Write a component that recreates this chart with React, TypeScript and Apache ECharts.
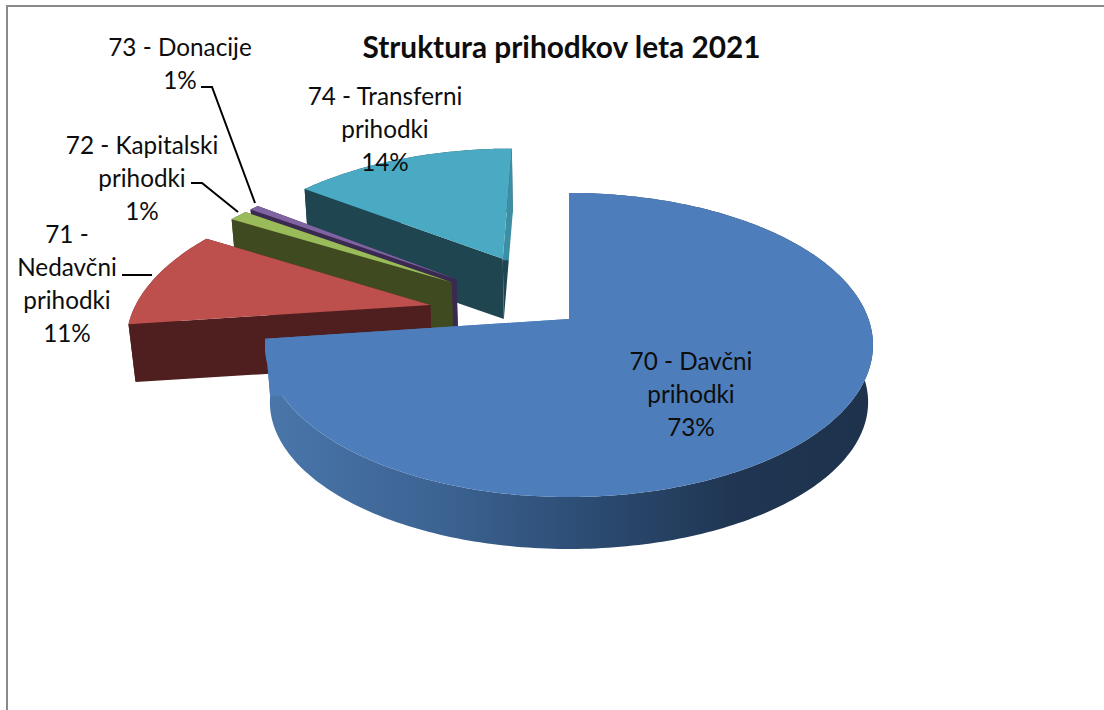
import React, { useEffect, useRef } from "react";
import * as echarts from "echarts";

const chartTitle = "Struktura prihodkov leta 2021";
const categories = ["70 - Davčni\nprihodki", "71 -\nNedavčni\nprihodki", "72 - Kapitalski\nprihodki", "73 - Donacije", "74 - Transferni\nprihodki"];
const shares = [72.9, 10.5, 1.2, 0.6, 14.8];
const percentLabels = ["73%", "11%", "1%", "1%", "14%"];
const explosionU = [0, 0.48, 0.485, 0.485, 0.53];
const explosionV = [0, 0.49, 0.485, 0.485, 0.49];
const topColors = ["#4d7ebb", "#bd504d", "#9abb59", "#8064a2", "#4aaac4"];
const wallColors = ["#4d7ebb", "#4f1f1f", "#3f4a20", "#3a2a52", "#1f4650"];
const drawOrder = [4, 3, 2, 1, 0];

// projection
const CX = 569, CY = 319, R = 299.5, K = 147.6, P = 0.171, DEPTH = 58, SHRINK_X = 0.984, SHRINK_Y = 0.966;
const total = shares.reduce((a, b) => a + b, 0);

function project(u: number, v: number, bottom: boolean): number[] {
  const s = 1 / (1 - P * v);
  const fx = bottom ? SHRINK_X : 1;
  const fy = bottom ? SHRINK_Y : 1;
  return [CX + u * R * s * fx, CY + v * K * s * fy + (bottom ? DEPTH : 0)];
}

function renderItem(params: any, api: any) {
  const i = api.value(0) as number;
  let before = 0;
  for (let n = 0; n < i; n++) before += shares[n];
  const a0 = (before / total) * Math.PI * 2;
  const a1 = ((before + shares[i]) / total) * Math.PI * 2;
  const mid = (a0 + a1) / 2;
  const ou = Math.sin(mid) * explosionU[i];
  const ov = -Math.cos(mid) * explosionV[i];
  const steps = Math.max(2, Math.ceil((a1 - a0) / (Math.PI / 180)));
  const rim = (bottom: boolean) => {
    const pts: number[][] = [];
    for (let s = 0; s <= steps; s++) {
      const a = a0 + ((a1 - a0) * s) / steps;
      pts.push(project(ou + Math.sin(a), ov - Math.cos(a), bottom));
    }
    return pts;
  };
  const topRim = rim(false);
  const botRim = rim(true);
  const apexT = project(ou, ov, false);
  const apexB = project(ou, ov, true);
  const children: any[] = [];
  const rimFill =
    i === 0
      ? new echarts.graphic.LinearGradient(
          268, 0, 873, 0,
          [
            { offset: 0, color: "#4a76aa" },
            { offset: 0.3, color: "#3b6291" },
            { offset: 0.55, color: "#2b4a70" },
            { offset: 0.78, color: "#1f3551" },
            { offset: 1, color: "#1e324c" },
          ],
          true
        )
      : wallColors[i];
  children.push({
    type: "polygon",
    shape: { points: topRim.concat(botRim.slice().reverse()) },
    style: { fill: rimFill },
  });
  children.push({
    type: "polygon",
    shape: { points: [apexT, topRim[0], botRim[0], apexB] },
    style: { fill: wallColors[i] },
  });
  const endT = topRim[steps], endB = botRim[steps];
  children.push({
    type: "polygon",
    shape: { points: [apexT, endT, endB, apexB] },
    style: {
      fill:
        i === 4
          ? new echarts.graphic.LinearGradient(
              0, endT[1], 0, apexB[1],
              [
                { offset: 0, color: "#3c8ea5" },
                { offset: 0.65, color: "#3c8ea5" },
                { offset: 0.66, color: wallColors[i] },
                { offset: 1, color: wallColors[i] },
              ],
              true
            )
          : wallColors[i],
    },
  });
  children.push({
    type: "polygon",
    shape: { points: [apexT].concat(topRim) },
    style: { fill: topColors[i] },
  });
  return { type: "group", children };
}

const labelFont = { fontFamily: "Lato", fontSize: 24.3, lineHeight: 33, fill: "#0d0d0d", align: "center", verticalAlign: "middle" };
const labelText = (i: number, x: number, y: number) => ({
  type: "text",
  x,
  y,
  z: 20,
  style: { ...labelFont, text: categories[i] + "\n" + percentLabels[i] },
});
const leader = (points: number[][]) => ({
  type: "polyline",
  z: 20,
  shape: { points },
  style: { stroke: "#000", lineWidth: 2, fill: "none" },
});

export default function App() {
  const ref = useRef<HTMLDivElement>(null);
  useEffect(() => {
    document.body.style.margin = "0";
    const chart = echarts.init(ref.current!, undefined, { renderer: "svg" });
    chart.setOption({
      animation: false,
      backgroundColor: "#fff",
      title: {
        text: chartTitle,
        left: 556.5,
        top: 26,
        textAlign: "center",
        textStyle: { fontFamily: "Lato", fontWeight: "bold", fontSize: 29.8, color: "#0d0d0d" },
      },
      series: [
        {
          type: "custom",
          coordinateSystem: "none",
          silent: true,
          renderItem,
          data: drawOrder.map((i) => [i]),
        },
      ],
      graphic: [
        { type: "line", shape: { x1: 6, y1: 6, x2: 1104, y2: 6 }, style: { stroke: "#898989", lineWidth: 2 }, z: 20 },
        { type: "line", shape: { x1: 7, y1: 5, x2: 7, y2: 710 }, style: { stroke: "#898989", lineWidth: 2 }, z: 20 },
        leader([[201, 87], [212, 87], [255, 203]]),
        leader([[191, 183], [202, 183], [238, 212]]),
        leader([[122, 275], [152, 275]]),
        labelText(0, 691, 393),
        labelText(1, 67, 283),
        labelText(2, 142, 177),
        labelText(3, 180, 63),
        labelText(4, 385, 128),
      ],
    });
    return () => chart.dispose();
  }, []);
  return <div ref={ref} style={{ width: 1104, height: 710 }} />;
}
